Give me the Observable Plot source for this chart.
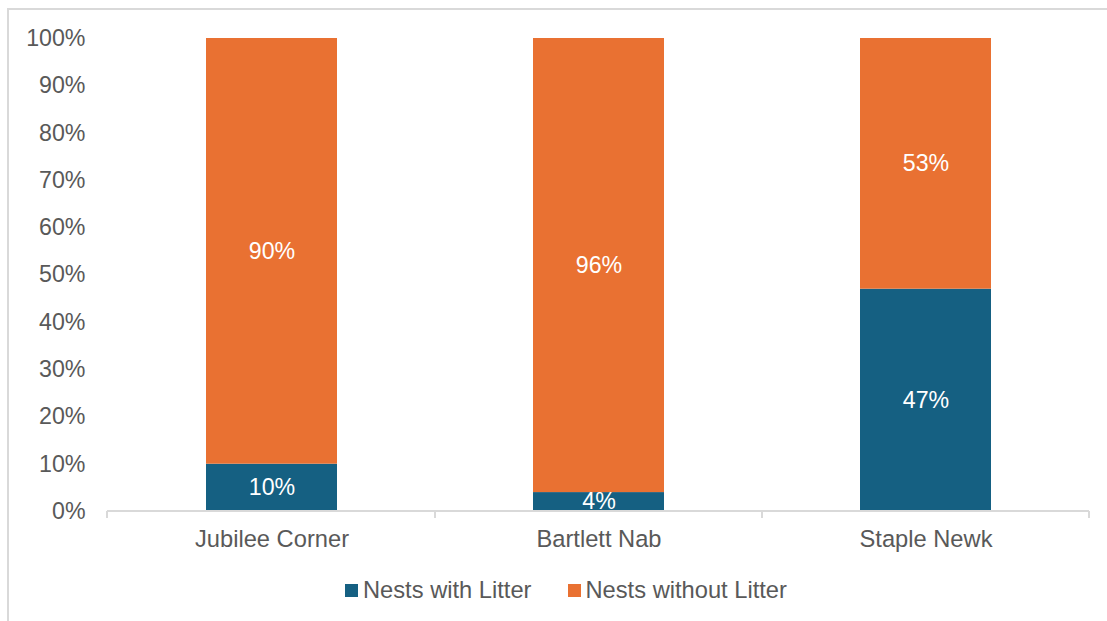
<!DOCTYPE html>
<html>
<head>
<meta charset="utf-8">
<script src="https://cdn.jsdelivr.net/npm/d3@7"></script>
<script src="https://cdn.jsdelivr.net/npm/@observablehq/plot@0.6"></script>
<style>
  html, body { margin: 0; padding: 0; background: #fff; }
  body { width: 1107px; height: 621px; position: relative; overflow: hidden; font-family: "Liberation Sans", Arial, sans-serif; }
  #frame { position: absolute; left: 7px; top: 8px; width: 1200px; height: 700px; border-left: 2px solid #d9d9d9; border-top: 2px solid #d9d9d9; box-sizing: border-box; }
  #chart { position: absolute; left: 0; top: 0; }
  #legend { position: absolute; left: 345px; top: 577px; display: flex; align-items: center; font-size: 23.7px; color: #595959; white-space: nowrap; }
  .item { display: flex; align-items: center; margin-right: 36px; }
  .sw { width: 13px; height: 13px; margin-right: 5px; display: inline-block; }
</style>
</head>
<body>
<div id="frame"></div>
<div id="chart"></div>
<div id="legend"></div>
<script>
const sites = ["Jubilee Corner", "Bartlett Nab", "Staple Newk"];
const withLitter = [10, 4, 47];
const withoutLitter = [90, 96, 53];
const seriesNames = ["Nests with Litter", "Nests without Litter"];
const seriesColors = ["#156082", "#E97132"];
const yTicks = [0, 10, 20, 30, 40, 50, 60, 70, 80, 90, 100];

const data = [];
sites.forEach((s, i) => {
  data.push({site: s, series: seriesNames[0], value: withLitter[i]});
  data.push({site: s, series: seriesNames[1], value: withoutLitter[i]});
});

const baseline = (index, scales, values, dimensions) => {
  const g = d3.create("svg:g");
  const x = scales.x, step = x.step ? x.step() : 0;
  const y0 = scales.y(0);
  const left = dimensions.marginLeft, right = dimensions.width - dimensions.marginRight;
  g.append("line").attr("x1", left).attr("x2", right).attr("y1", y0).attr("y2", y0)
    .attr("stroke", "#d9d9d9").attr("stroke-width", 2);
  const bounds = [left, ...sites.map(s => x(s) + x.bandwidth() + (step - x.bandwidth()) / 2)];
  bounds.forEach(b => {
    g.append("line").attr("x1", b).attr("x2", b).attr("y1", y0).attr("y2", y0 + 7)
      .attr("stroke", "#d9d9d9").attr("stroke-width", 2);
  });
  return g.node();
};

const chart = Plot.plot({
  width: 1107,
  height: 560,
  marginLeft: 107,
  marginRight: 18,
  marginTop: 38,
  marginBottom: 49,
  style: {fontFamily: "'Liberation Sans', Arial, sans-serif", fontSize: "23px", color: "#595959", background: "transparent"},
  x: {domain: sites, paddingInner: 0.6, paddingOuter: 0.3, label: null},
  y: {domain: [0, 100], label: null},
  color: {domain: seriesNames, range: seriesColors},
  marks: [
    Plot.barY(data, {x: "site", y: "value", fill: "series"}),
    baseline,
    Plot.text(data, Plot.stackY({x: "site", y: "value", text: d => d.value + "%", fill: "white", fontSize: 23.2})),
    Plot.axisY({ticks: yTicks, tickFormat: d => d + "%", tickSize: 0, tickPadding: 22, fill: "#595959", label: null, fontSize: 23.2}),
    Plot.axisX({tickSize: 0, tickPadding: 19, fill: "#595959", label: null, fontSize: 23.7})
  ]
});
document.getElementById("chart").appendChild(chart);

const legend = document.getElementById("legend");
seriesNames.forEach((n, i) => {
  const it = document.createElement("span");
  it.className = "item";
  const sw = document.createElement("span");
  sw.className = "sw";
  sw.style.background = seriesColors[i];
  it.appendChild(sw);
  it.appendChild(document.createTextNode(n));
  legend.appendChild(it);
});
</script>
</body>
</html>
